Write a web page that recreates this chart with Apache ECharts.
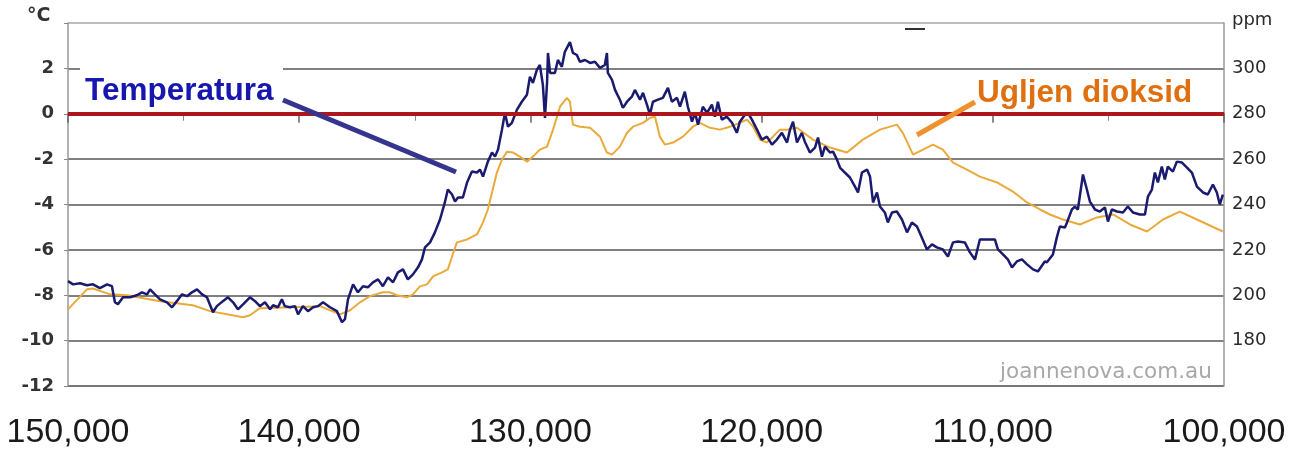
<!DOCTYPE html>
<html>
<head>
<meta charset="utf-8">
<script src="https://cdn.jsdelivr.net/npm/echarts@6/dist/echarts.min.js"></script>
<style>
html,body{margin:0;padding:0;background:#fff;}
#chart{width:1302px;height:455px;}
</style>
</head>
<body>
<div id="chart"></div>
<script>
// ---- Data (years before present) ----
const tempYears = [150000,149780,149480,149180,148920,148620,148310,148100,147970,147840,147620,147320,147020,146800,146580,146450,146240,146020,145720,145500,145290,145070,144850,144640,144420,144200,143990,143730,143560,143300,143080,142860,142650,142430,142130,141910,141700,141480,141260,141130,140920,140750,140620,140400,140180,140050,139840,139620,139400,139190,138970,138670,138370,138150,138020,137890,137670,137460,137240,137030,136810,136590,136380,136160,135940,135730,135510,135300,135080,134860,134690,134560,134340,134130,133910,133700,133570,133390,133260,133130,132920,132740,132530,132310,132180,132050,131840,131660,131530,131400,131230,131100,130970,130800,130580,130370,130150,130020,129890,129720,129590,129460,129370,129280,129240,129150,128940,128810,128640,128510,128290,128160,127990,127860,127640,127420,127210,126990,126780,126690,126650,126470,126340,126130,126000,125820,125610,125480,125260,125130,124960,124830,124700,124480,124270,124050,123880,123660,123530,123320,123190,123010,122880,122750,122540,122360,122150,122020,121890,121720,121500,121280,121070,120940,120720,120590,120420,120200,119990,119770,119550,119340,119120,118900,118770,118640,118470,118260,118130,117910,117690,117560,117390,117260,117040,116910,116740,116610,116400,116180,115960,115830,115660,115440,115310,115180,115010,114880,114670,114540,114360,114150,113930,113710,113500,113280,113070,112850,112630,112420,112160,111940,111720,111510,111210,110990,110770,110560,110340,110120,109910,109780,109560,109350,109170,108960,108740,108520,108260,108050,107750,107660,107400,107230,107100,106880,106790,106580,106450,106320,106100,105930,105800,105580,105370,105150,105020,104850,104630,104370,104160,103940,103640,103420,103290,103120,102990,102860,102690,102560,102430,102210,102040,101820,101600,101390,101170,100910,100700,100480,100310,100180,100050];
const tempC = [-7.38,-7.52,-7.47,-7.56,-7.52,-7.69,-7.52,-7.60,-8.31,-8.40,-8.09,-8.09,-8.00,-7.87,-7.96,-7.74,-7.96,-8.18,-8.31,-8.53,-8.26,-7.96,-8.04,-7.87,-7.74,-7.96,-8.09,-8.75,-8.48,-8.26,-8.09,-8.31,-8.62,-8.40,-8.09,-8.26,-8.48,-8.31,-8.62,-8.44,-8.53,-8.18,-8.48,-8.53,-8.48,-8.84,-8.48,-8.70,-8.53,-8.48,-8.31,-8.53,-8.70,-9.19,-9.05,-8.18,-7.52,-7.87,-7.60,-7.65,-7.43,-7.30,-7.60,-7.21,-7.43,-6.99,-6.86,-7.30,-7.08,-6.77,-6.42,-5.89,-5.67,-5.23,-4.66,-3.91,-3.34,-3.56,-3.87,-3.69,-3.69,-3.03,-2.55,-2.59,-2.46,-2.77,-2.11,-1.71,-1.89,-1.58,-0.70,0.04,-0.57,-0.40,0.18,0.53,0.84,1.63,1.36,1.93,2.15,1.27,-0.18,1.36,2.68,1.80,1.80,2.37,2.07,2.73,3.16,2.68,2.59,2.29,2.37,2.24,2.29,2.02,2.15,2.68,1.80,1.49,1.05,0.62,0.26,0.53,0.75,1.05,0.62,0.92,0.40,-0.04,0.53,0.62,0.70,1.14,0.53,0.70,0.31,0.97,0.31,-0.35,0.04,-0.48,0.31,0.04,0.40,-0.13,0.53,-0.26,-0.13,-0.40,-0.84,-0.35,-0.04,0.04,-0.26,-0.70,-1.14,-1.01,-1.36,-1.14,-0.84,-1.27,-0.70,-0.35,-1.27,-0.84,-1.23,-1.71,-1.49,-1.05,-1.89,-1.45,-1.71,-1.67,-2.02,-2.37,-2.59,-2.81,-3.21,-3.47,-2.59,-2.46,-2.77,-3.91,-3.47,-4.09,-4.35,-4.79,-4.35,-4.31,-4.66,-5.23,-4.79,-4.97,-5.45,-5.98,-5.76,-5.89,-5.98,-6.29,-5.67,-5.63,-5.67,-6.11,-6.42,-5.54,-5.54,-5.54,-5.54,-5.98,-6.20,-6.42,-6.77,-6.51,-6.42,-6.64,-6.86,-6.95,-6.51,-6.55,-6.20,-5.45,-4.97,-5.01,-4.79,-4.22,-4.09,-4.22,-2.68,-3.34,-3.87,-4.22,-4.31,-4.13,-4.75,-4.22,-4.31,-4.35,-4.09,-4.35,-4.44,-4.44,-3.65,-3.34,-2.59,-3.03,-2.33,-2.90,-2.33,-2.55,-2.11,-2.15,-2.37,-2.59,-3.21,-3.47,-3.56,-3.12,-3.47,-4.00,-3.56];

const co2Years = [150000,149180,148920,148180,147450,146020,144600,143860,142430,142130,141700,140270,139100,138240,137800,137370,136940,136380,136070,135770,135340,135080,134780,134470,134210,133820,133570,133390,133180,132740,132310,132050,131840,131660,131450,131230,131010,130750,130450,130150,129890,129590,129280,129020,128720,128420,128290,128160,127860,127420,126990,126690,126470,126130,125820,125560,125130,124830,124610,124400,124180,123830,123400,122970,122670,122230,121800,121370,120940,120630,120370,120070,119770,119510,119210,118900,118470,117780,117040,116310,115620,114880,114150,113890,113450,113020,112590,112160,111720,111120,110560,109820,109130,108520,107960,107530,106970,106230,105500,104800,104070,103330,102640,101910,101170,100050];
const co2Ppm = [193.8,202.6,203.0,200.4,200.0,197.4,195.6,193.0,190.3,191.2,194.3,194.7,195.2,191.6,193.4,196.9,199.6,201.3,201.3,200.0,199.1,200.4,203.9,204.8,208.3,210.1,211.4,217.1,223.3,224.6,226.8,232.1,237.8,245.3,254.1,259.8,263.3,262.9,261.1,258.9,261.1,264.2,265.5,273.0,283.1,287.0,285.3,275.2,274.3,273.8,269.9,262.9,262.0,265.5,271.6,274.3,276.0,278.2,278.7,269.9,266.4,267.3,269.9,274.3,276.0,273.8,273.0,274.3,276.0,277.4,274.3,268.6,267.3,269.9,273.0,273.0,273.8,268.6,265.1,262.9,268.6,273.0,275.2,271.6,262.0,264.2,266.4,264.2,258.5,255.4,252.3,249.7,245.7,240.9,237.8,235.6,233.4,231.2,234.3,235.6,231.2,228.1,233.4,236.9,233.4,228.1];

const xTicks = [150000,140000,130000,120000,110000,100000];
const tempTicks = [-12,-10,-8,-6,-4,-2,0,2];
const ppmTicks = [180,200,220,240,260,280,300];
const labelTemp = 'Temperatura';
const labelCO2 = 'Ugljen dioksid';
const watermark = 'joannenova.com.au';

const tempData = tempYears.map((y,i)=>[y,tempC[i]]);
const co2Data = co2Years.map((y,i)=>[y,co2Ppm[i]]);

const chart = echarts.init(document.getElementById('chart'));
const fmtThousands = v => String(v).replace(/\B(?=(\d{3})+(?!\d))/g, ',');

const option = {
  animation: false,
  backgroundColor: '#fff',
  grid: {left: 68, right: 78, top: 23, bottom: 69, containLabel: false, outerBoundsMode: 'none'},
  xAxis: {
    type: 'value', min: 100000, max: 150000, interval: 10000, inverse: true,
    axisLine: {show: true, lineStyle: {color: '#777', width: 2}},
    axisTick: {show: true, length: 9, lineStyle: {color: '#666', width: 1.5}},
    minorTick: {show: true, splitNumber: 2, length: 7, lineStyle: {color: '#888', width: 1}},
    splitLine: {show: false},
    axisLabel: {
      formatter: v => xTicks.includes(v) ? fmtThousands(v) : '',
      fontFamily: "'Liberation Sans', Arial, sans-serif",
      fontSize: 34, color: '#1a1a1a', margin: 30,
      showMinLabel: true, showMaxLabel: true, hideOverlap: false
    }
  },
  yAxis: [{
    type: 'value', min: -12, max: 4, interval: 2, position: 'left',
    axisLine: {show: true, lineStyle: {color: '#999', width: 1.5}},
    axisTick: {show: true, length: 4, lineStyle: {color: '#888'}},
    splitLine: {show: true, lineStyle: {color: ['#777','#808080','#808080','#808080','#808080','#808080','#808080','#808080','#bdbdbd'], width: 2}},
    axisLabel: {
      formatter: v => tempTicks.includes(v) ? String(v) : '',
      fontFamily: 'DejaVu Sans', fontWeight: 'bold', fontSize: 18, color: '#333', margin: 14
    }
  }, {
    type: 'value', min: 160, max: 320, interval: 20, position: 'right',
    axisLine: {show: true, lineStyle: {color: '#999', width: 1.5}},
    axisTick: {show: false},
    splitLine: {show: false},
    axisLabel: {
      formatter: v => ppmTicks.includes(v) ? String(v) : '',
      fontFamily: 'DejaVu Sans', fontSize: 18, color: '#2a2a2a', margin: 8
    }
  }],
  series: [{
    name: 'CO2', type: 'line', yAxisIndex: 1, data: co2Data,
    showSymbol: false, smooth: false,
    lineStyle: {color: '#eaaa3a', width: 2},
    z: 3,
    markLine: {
      silent: true, symbol: ['none','none'], label: {show: false},
      lineStyle: {color: '#ad161c', width: 4, type: 'solid'},
      data: [{yAxis: 280}]
    }
  }, {
    name: 'Temp', type: 'line', yAxisIndex: 0, data: tempData,
    showSymbol: false, smooth: false,
    lineStyle: {color: '#1a1a6e', width: 2.5},
    z: 4
  }],
  graphic: [
    {type: 'text', left: 27, top: 7, z: 100, style: {text: '°C', font: 'bold 19px "DejaVu Sans"', fill: '#333'}},
    {type: 'text', left: 1232, top: 11, z: 100, style: {text: 'ppm', font: '18px "DejaVu Sans"', fill: '#2a2a2a'}},
    {type: 'line', z: 100, shape: {x1: 905, y1: 29, x2: 925, y2: 29}, style: {stroke: '#333', lineWidth: 2}},
    {type: 'rect', z: 100, shape: {x: 80, y: 66, width: 203, height: 44}, style: {fill: '#fff'}},
    {type: 'text', z: 101, x: 85, y: 91, style: {text: labelTemp, font: 'bold 31.5px "Liberation Sans", Arial, sans-serif', fill: '#1717b0', textVerticalAlign: 'middle'}},
    {type: 'line', z: 100, shape: {x1: 283, y1: 100, x2: 456, y2: 172}, style: {stroke: '#353590', lineWidth: 5}},
    {type: 'rect', z: 100, shape: {x: 970, y: 71, width: 232, height: 40}, style: {fill: '#fff'}},
    {type: 'text', z: 101, x: 977, y: 93, style: {text: labelCO2, font: 'bold 31.5px "Liberation Sans", Arial, sans-serif', fill: '#e0700f', textVerticalAlign: 'middle'}},
    {type: 'line', z: 100, shape: {x1: 917, y1: 135, x2: 975, y2: 102}, style: {stroke: '#f0922c', lineWidth: 5}},
    {type: 'text', z: 100, x: 1000, y: 372, style: {text: watermark, font: '21.5px "DejaVu Sans"', fill: '#a8a8a8', textVerticalAlign: 'middle'}}
  ]
};
chart.setOption(option);
</script>
</body>
</html>
